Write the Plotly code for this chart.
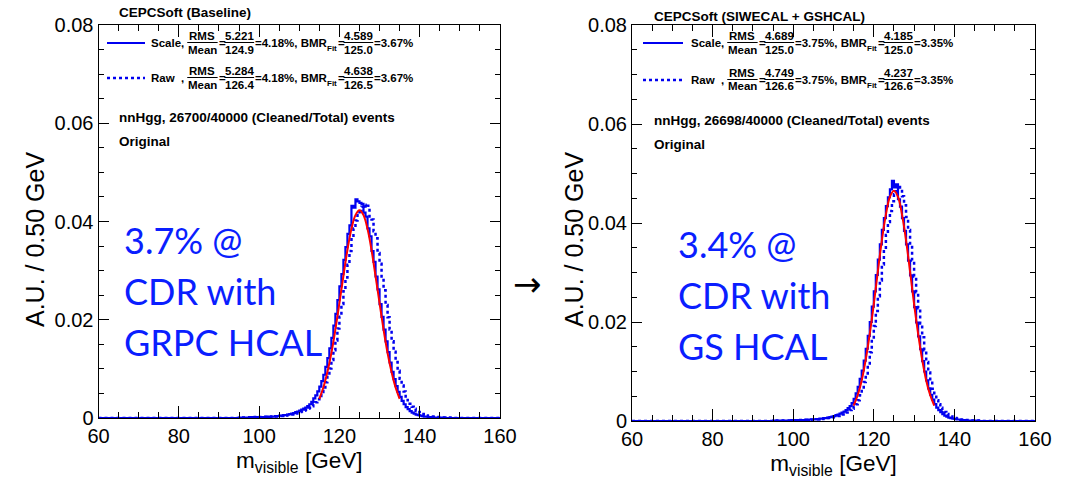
import numpy as np
import plotly.graph_objects as go

W, H = 1069, 484

# ---------------- data ----------------
bin_width = 0.5          # GeV
hist_start = 60.0        # GeV, lower edge of the first bin
empty_low = [0.0] * 70   # bins 60.0 - 94.5 GeV are empty
empty_high = [0.0] * 20  # bins 150.0 - 159.5 GeV are empty

# bins 95.0 ... 149.5 GeV (10 bins per row)
left_scale_core = [
    0.0001, 0.0001, 0.0001, 0.0001, 0.0001, 0.0002, 0.0001, 0.0002, 0.0002, 0.0002,
    0.0002, 0.0002, 0.0002, 0.0003, 0.0002, 0.0003, 0.0003, 0.0003, 0.0004, 0.0004,
    0.0005, 0.0005, 0.0006, 0.0006, 0.0007, 0.0008, 0.0009, 0.0010, 0.0012, 0.0013,
    0.0015, 0.0017, 0.0019, 0.0021, 0.0024, 0.0028, 0.0033, 0.0040, 0.0046, 0.0054,
    0.0064, 0.0075, 0.0088, 0.0104, 0.0122, 0.0142, 0.0163, 0.0188, 0.0212, 0.0240,
    0.0268, 0.0293, 0.0322, 0.0348, 0.0375, 0.0392, 0.0432, 0.0428, 0.0445, 0.0441,
    0.0438, 0.0436, 0.0418, 0.0410, 0.0386, 0.0370, 0.0340, 0.0318, 0.0288, 0.0262,
    0.0232, 0.0206, 0.0180, 0.0156, 0.0134, 0.0113, 0.0094, 0.0079, 0.0065, 0.0053,
    0.0043, 0.0035, 0.0028, 0.0022, 0.0018, 0.0014, 0.0011, 0.0009, 0.0007, 0.0006,
    0.0005, 0.0004, 0.0003, 0.0003, 0.0002, 0.0002, 0.0002, 0.0001, 0.0001, 0.0001,
    0.0001, 0.0001, 0.0001, 0.0, 0.0, 0.0, 0.0, 0.0, 0.0, 0.0,
]
left_raw_core = [
    0.0001, 0.0001, 0.0001, 0.0001, 0.0001, 0.0001, 0.0001, 0.0002, 0.0001, 0.0002,
    0.0002, 0.0002, 0.0002, 0.0002, 0.0002, 0.0003, 0.0002, 0.0003, 0.0003, 0.0003,
    0.0004, 0.0004, 0.0005, 0.0005, 0.0006, 0.0006, 0.0007, 0.0008, 0.0009, 0.0010,
    0.0012, 0.0013, 0.0015, 0.0017, 0.0019, 0.0021, 0.0024, 0.0028, 0.0032, 0.0038,
    0.0045, 0.0053, 0.0062, 0.0073, 0.0086, 0.0101, 0.0118, 0.0138, 0.0158, 0.0182,
    0.0206, 0.0232, 0.0258, 0.0286, 0.0312, 0.0340, 0.0364, 0.0386, 0.0402, 0.0420,
    0.0416, 0.0430, 0.0434, 0.0428, 0.0432, 0.0410, 0.0404, 0.0380, 0.0366, 0.0336,
    0.0314, 0.0285, 0.0260, 0.0230, 0.0205, 0.0180, 0.0156, 0.0135, 0.0114, 0.0096,
    0.0080, 0.0066, 0.0054, 0.0044, 0.0036, 0.0029, 0.0023, 0.0019, 0.0015, 0.0012,
    0.0010, 0.0008, 0.0006, 0.0005, 0.0004, 0.0004, 0.0003, 0.0003, 0.0002, 0.0002,
    0.0002, 0.0001, 0.0001, 0.0001, 0.0001, 0.0001, 0.0, 0.0, 0.0, 0.0,
]
right_scale_core = [
    0.0001, 0.0001, 0.0001, 0.0001, 0.0001, 0.0001, 0.0001, 0.0001, 0.0001, 0.0002,
    0.0001, 0.0002, 0.0002, 0.0002, 0.0002, 0.0002, 0.0003, 0.0002, 0.0003, 0.0003,
    0.0003, 0.0004, 0.0004, 0.0005, 0.0005, 0.0006, 0.0006, 0.0007, 0.0008, 0.0009,
    0.0010, 0.0012, 0.0013, 0.0015, 0.0017, 0.0019, 0.0022, 0.0026, 0.0030, 0.0036,
    0.0045, 0.0056, 0.0069, 0.0085, 0.0102, 0.0122, 0.0146, 0.0172, 0.0200, 0.0231,
    0.0262, 0.0295, 0.0326, 0.0357, 0.0386, 0.0410, 0.0434, 0.0452, 0.0468, 0.0485,
    0.0472, 0.0478, 0.0448, 0.0433, 0.0410, 0.0384, 0.0357, 0.0324, 0.0294, 0.0262,
    0.0230, 0.0199, 0.0171, 0.0145, 0.0121, 0.0100, 0.0082, 0.0066, 0.0053, 0.0043,
    0.0034, 0.0027, 0.0022, 0.0018, 0.0014, 0.0011, 0.0009, 0.0007, 0.0006, 0.0005,
    0.0004, 0.0003, 0.0003, 0.0002, 0.0002, 0.0002, 0.0001, 0.0001, 0.0001, 0.0001,
    0.0001, 0.0001, 0.0, 0.0, 0.0, 0.0, 0.0, 0.0, 0.0, 0.0,
]
right_raw_core = [
    0.0001, 0.0001, 0.0001, 0.0001, 0.0001, 0.0001, 0.0001, 0.0001, 0.0001, 0.0001,
    0.0001, 0.0001, 0.0002, 0.0002, 0.0002, 0.0002, 0.0002, 0.0002, 0.0002, 0.0003,
    0.0003, 0.0003, 0.0003, 0.0004, 0.0004, 0.0005, 0.0005, 0.0006, 0.0006, 0.0007,
    0.0008, 0.0009, 0.0010, 0.0012, 0.0013, 0.0015, 0.0017, 0.0019, 0.0022, 0.0025,
    0.0029, 0.0034, 0.0042, 0.0052, 0.0064, 0.0079, 0.0096, 0.0116, 0.0139, 0.0165,
    0.0192, 0.0222, 0.0252, 0.0284, 0.0316, 0.0347, 0.0376, 0.0402, 0.0424, 0.0444,
    0.0458, 0.0470, 0.0476, 0.0468, 0.0454, 0.0436, 0.0412, 0.0386, 0.0356, 0.0324,
    0.0292, 0.0260, 0.0228, 0.0197, 0.0169, 0.0143, 0.0119, 0.0098, 0.0081, 0.0065,
    0.0052, 0.0042, 0.0034, 0.0027, 0.0022, 0.0018, 0.0014, 0.0011, 0.0009, 0.0007,
    0.0006, 0.0005, 0.0004, 0.0003, 0.0003, 0.0002, 0.0002, 0.0002, 0.0001, 0.0001,
    0.0001, 0.0001, 0.0001, 0.0, 0.0, 0.0, 0.0, 0.0, 0.0, 0.0,
]
left_scale = empty_low + left_scale_core + empty_high
left_raw = empty_low + left_raw_core + empty_high
right_scale = empty_low + right_scale_core + empty_high
right_raw = empty_low + right_raw_core + empty_high

# Gaussian fit curves (red)
fit_x = [115, 116, 117, 118, 119, 120, 121, 122, 123, 124, 125,
         126, 127, 128, 129, 130, 131, 132, 133, 134, 135]
left_fit = [0.0039, 0.0062, 0.0093, 0.0132, 0.0180, 0.0234, 0.0289, 0.0342, 0.0385, 0.0413, 0.0423,
            0.0413, 0.0385, 0.0342, 0.0289, 0.0234, 0.0180, 0.0132, 0.0093, 0.0062, 0.0039]
right_fit = [0.0031, 0.0052, 0.0082, 0.0124, 0.0176, 0.0236, 0.0302, 0.0365, 0.0417, 0.0453, 0.0465,
             0.0453, 0.0417, 0.0365, 0.0302, 0.0236, 0.0176, 0.0124, 0.0082, 0.0052, 0.0031]

y_tickvals = [0, 0.02, 0.04, 0.06, 0.08]
y_ticktext = ["0", "0.02", "0.04", "0.06", "0.08"]
x_title = "m<sub>visible</sub> [GeV]"
y_title = "A.U. / 0.50 GeV"

left_title = "CEPCSoft (Baseline)"
right_title = "CEPCSoft (SIWECAL + GSHCAL)"
left_events = "nnHgg, 26700/40000 (Cleaned/Total) events"
right_events = "nnHgg, 26698/40000 (Cleaned/Total) events"
left_rows = [("Scale,", "5.221", "124.9", "4.18%", "4.589", "125.0", "3.67%"),
             ("Raw\u00a0\u00a0,", "5.284", "126.4", "4.18%", "4.638", "126.5", "3.67%")]
right_rows = [("Scale,", "4.689", "125.0", "3.75%", "4.185", "125.0", "3.35%"),
              ("Raw\u00a0\u00a0,", "4.749", "126.6", "3.75%", "4.237", "126.6", "3.35%")]
left_note = ["3.7% @", "CDR with", "GRPC HCAL"]
right_note = ["3.4% @", "CDR with", "GS HCAL"]

# ---------------- styling helpers ----------------
BLUE = "#0000f0"
RED = "#ff0000"
FONT = "Liberation Sans"

CW = {' ': 278, '\u00a0': 278, '%': 889, '(': 333, ')': 333, '+': 584, ',': 278, '.': 278,
      '/': 278, '=': 584, 'A': 722, 'B': 722, 'C': 722, 'M': 833, 'R': 722, 'S': 667,
      'F': 611, 'a': 556, 'c': 556, 'e': 556, 'i': 278, 'l': 278, 'n': 611, 't': 333,
      'w': 778}
for d in "0123456789":
    CW[d] = 556


def tw(s, size):
    return sum(CW.get(c, 600) for c in s) * size / 1000.0


def px(x):
    return x / W


def py(y):
    return 1 - y / H


def ann(x, y, text, size, color="black", xanchor="left", yanchor="middle",
        family=FONT, angle=0):
    return dict(x=px(x), y=py(y), xref="paper", yref="paper", text=text,
                showarrow=False, xanchor=xanchor, yanchor=yanchor,
                font=dict(size=size, color=color, family=family),
                textangle=angle, borderpad=0)


annotations = []
shapes = []


def hline(x0, x1, y, color="black", width=1, dash="solid"):
    shapes.append(dict(type="line", xref="paper", yref="paper",
                       x0=px(x0), x1=px(x1), y0=py(y), y1=py(y),
                       line=dict(color=color, width=width, dash=dash)))


def legend_row(x0, y, row, size=11.5):
    label, rms, mean, rel1, fw, fm, rel2 = row
    x = x0
    annotations.append(ann(x, y, f"<b>{label}</b>", size))
    x += tw(label, size) + 4

    def frac(x, num, den):
        w = max(tw(num, size), tw(den, size)) + 1
        annotations.append(ann(x + w / 2, y - 6.5, f"<b>{num}</b>", size, xanchor="center"))
        annotations.append(ann(x + w / 2, y + 6.5, f"<b>{den}</b>", size, xanchor="center"))
        hline(x, x + w, y - 0.5, width=1)
        return x + w

    x = frac(x, "RMS", "Mean")
    annotations.append(ann(x, y, "<b>=</b>", size)); x += tw("=", size)
    x = frac(x, rms, mean)
    t = f"={rel1}, BMR"
    annotations.append(ann(x, y, f"<b>{t}</b>", size)); x += tw(t, size)
    annotations.append(ann(x, y + 5, "<b>Fit</b>", 8)); x += tw("Fit", 8) + 1
    annotations.append(ann(x, y, "<b>=</b>", size)); x += tw("=", size)
    x = frac(x, fw, fm)
    annotations.append(ann(x, y, f"<b>={rel2}</b>", size))


# ---------------- figure ----------------
fig = go.Figure()
edges = hist_start + bin_width * np.arange(len(left_scale) + 1)


def step(values, xa, ya, dash, width):
    yv = list(values) + [values[-1]]
    fig.add_trace(go.Scatter(x=edges, y=yv, mode="lines", line_shape="hv",
                             line=dict(color=BLUE, width=width, dash=dash),
                             xaxis=xa, yaxis=ya, hoverinfo="skip"))


step(left_raw, "x", "y", "dot", 2.5)
step(left_scale, "x", "y", "solid", 2.2)
fig.add_trace(go.Scatter(x=fit_x, y=left_fit, mode="lines", line_shape="spline",
                         line=dict(color=RED, width=2), xaxis="x", yaxis="y"))
step(right_raw, "x2", "y2", "dot", 2.5)
step(right_scale, "x2", "y2", "solid", 2.2)
fig.add_trace(go.Scatter(x=fit_x, y=right_fit, mode="lines", line_shape="spline",
                         line=dict(color=RED, width=2), xaxis="x2", yaxis="y2"))

xcommon = dict(range=[60, 160], tick0=60, dtick=20, ticks="inside", ticklen=12,
               tickcolor="black", showline=True, linecolor="black", linewidth=1,
               mirror="ticks", showgrid=False, zeroline=False, automargin=False,
               tickfont=dict(family=FONT, size=20, color="black"),
               minor=dict(ticks="inside", ticklen=6, dtick=5, tick0=60, tickcolor="black",
                          showgrid=False))
ycommon = dict(range=[0, 0.08], tickvals=y_tickvals, ticktext=y_ticktext,
               ticks="inside", ticklen=10, tickcolor="black", showline=True,
               linecolor="black", linewidth=1, mirror="ticks", showgrid=False,
               zeroline=False, automargin=False,
               tickfont=dict(family=FONT, size=20, color="black"),
               minor=dict(ticks="inside", ticklen=5, dtick=0.005, tick0=0,
                          tickcolor="black", showgrid=False))
xtitle = dict(text=x_title, font=dict(family=FONT, size=22.5, color="black"), standoff=6)

fig.update_layout(
    width=W, height=H, margin=dict(l=0, r=0, t=0, b=0),
    paper_bgcolor="white", plot_bgcolor="white", showlegend=False,
    xaxis=dict(domain=[px(98.5), px(500)], anchor="y", title=xtitle, **xcommon),
    yaxis=dict(domain=[py(418), py(25)], anchor="x", **ycommon),
    xaxis2=dict(domain=[px(632), px(1035)], anchor="y2", title=xtitle, **xcommon),
    yaxis2=dict(domain=[py(421), py(25)], anchor="x2", **ycommon),
)

# y-axis titles (placed lower than the axis centre, as in the reference)
annotations.append(ann(35, 240, y_title, 25, xanchor="center", angle=-90))
annotations.append(ann(574, 240, y_title, 25, xanchor="center", angle=-90))

# titles & text
annotations.append(ann(118, 13, f"<b>{left_title}</b>", 13.5))
annotations.append(ann(653, 16, f"<b>{right_title}</b>", 13.5))
annotations.append(ann(118, 118, f"<b>{left_events}</b>", 13.5))
annotations.append(ann(653, 120, f"<b>{right_events}</b>", 13.5))
annotations.append(ann(118, 141, "<b>Original</b>", 13.5))
annotations.append(ann(653, 144, "<b>Original</b>", 13.5))

# legend rows
for (x0, lx0, lx1, rows, ys) in [(150, 107, 145, left_rows, (43, 78)),
                                 (690, 643, 683, right_rows, (43, 80))]:
    hline(lx0, lx1, ys[0], color=BLUE, width=2.2)
    hline(lx0, lx1, ys[1], color=BLUE, width=2.5, dash="dot")
    for row, y in zip(rows, ys):
        legend_row(x0, y, row)

# big blue notes
for i, t in enumerate(left_note):
    annotations.append(ann(123, 240 + 51 * i, t, 36, color="#0a1eff", family="Lato"))
for i, t in enumerate(right_note):
    annotations.append(ann(677, 244 + 51 * i, t, 36, color="#0a1eff", family="Lato"))

annotations.append(ann(527, 284, "\u2192", 34, family="DejaVu Sans", xanchor="center"))

fig.update_layout(annotations=annotations, shapes=shapes)
fig.write_html("out.html")
